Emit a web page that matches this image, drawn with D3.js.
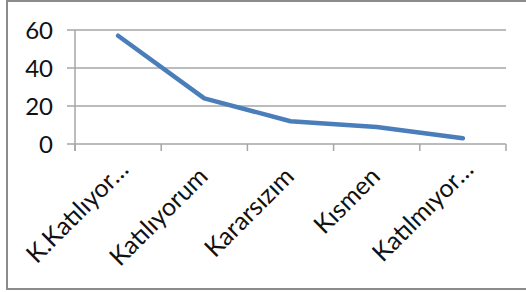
<!DOCTYPE html>
<html lang="tr">
<head>
<meta charset="utf-8">
<title>Grafik</title>
<script src="https://d3js.org/d3.v7.min.js"></script>
<style>
  * { margin:0; padding:0; box-sizing:border-box; }
  body { background:#fff; width:526px; height:292px; overflow:hidden; }
  svg { display:block; font-family:Lato,'Open Sans',sans-serif; }
  .grid line { stroke:#a6a6a6; stroke-width:1.5; }
  .lbl { fill:#111; }
</style>
</head>
<body>
<div id="chart"></div>
<script>
const categories = ['K.Katılıyor…', 'Katılıyorum', 'Kararsızım', 'Kısmen', 'Katılmıyor…'];
const values = [57, 24, 12, 9, 3];
const yTicks = [0, 20, 40, 60];
const truncated = [true, false, false, false, true];

const W = 526, H = 292;
const svg = d3.select('#chart').append('svg').attr('width', W).attr('height', H);

// chart frame
svg.append('rect').attr('x', 7).attr('y', 1).attr('width', 540).attr('height', 288)
  .attr('fill', '#fff').attr('stroke', '#8c8c8c').attr('stroke-width', 2);

const x = d3.scaleBand().domain(categories).range([75, 506]);
const y = d3.scaleLinear().domain([0, 60]).range([144, 30]);

// gridlines + left ticks
const grid = svg.append('g').attr('class', 'grid');
grid.selectAll('line.h').data(yTicks).join('line').attr('class', 'h')
  .attr('x1', 67).attr('x2', 506)
  .attr('y1', d => y(d)).attr('y2', d => y(d));

// y axis line
grid.append('line').attr('x1', 75).attr('x2', 75).attr('y1', y(60)).attr('y2', y(0) + 7);

// x ticks at category boundaries
const bounds = categories.map(c => x(c)).concat([x.range()[1]]);
grid.selectAll('line.t').data(bounds).join('line').attr('class', 't')
  .attr('x1', d => d).attr('x2', d => d)
  .attr('y1', y(0)).attr('y2', y(0) + 7);

// y labels
svg.append('g').selectAll('text').data(yTicks).join('text')
  .attr('class', 'lbl')
  .attr('font-size', 24)
  .attr('x', 53).attr('y', d => y(d)).attr('dy', '0.36em')
  .attr('text-anchor', 'end')
  .text(d => d);

// x labels rotated
svg.append('g').selectAll('text').data(categories).join('text')
  .attr('class', 'lbl')
  .attr('font-size', 25)
  .attr('text-anchor', 'end')
  .attr('transform', (d, i) => {
    const cx = x(d) + x.bandwidth() / 2;
    const s = truncated[i] ? 7 : 0;
    return `translate(${cx + 5 + s},${178 - s}) rotate(-45)`;
  })
  .text(d => d);

// line
const line = d3.line().x((d, i) => x(categories[i]) + x.bandwidth() / 2).y(d => y(d));
svg.append('path').datum(values)
  .attr('d', line)
  .attr('fill', 'none')
  .attr('stroke', '#4a7ebb')
  .attr('stroke-width', 4.5)
  .attr('stroke-linecap', 'round')
  .attr('stroke-linejoin', 'round');
</script>
</body>
</html>
